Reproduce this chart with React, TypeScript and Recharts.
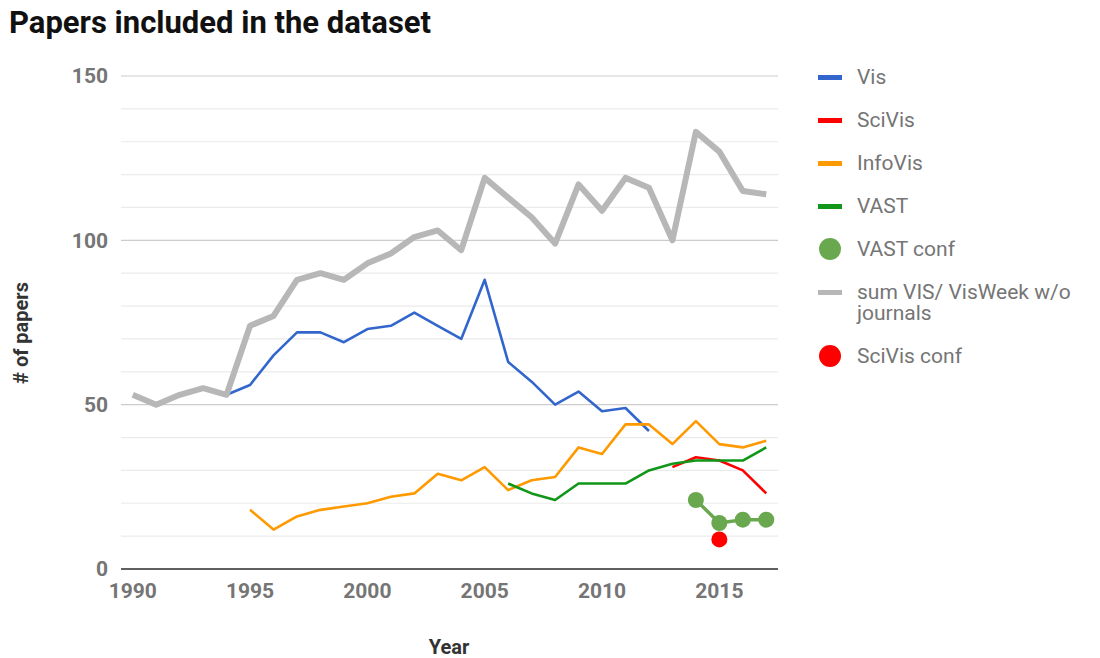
import React from 'react';
import { LineChart, Line, XAxis, YAxis, CartesianGrid, ReferenceLine } from 'recharts';

const years = [1990, 1991, 1992, 1993, 1994, 1995, 1996, 1997, 1998, 1999, 2000, 2001, 2002, 2003, 2004, 2005, 2006, 2007, 2008, 2009, 2010, 2011, 2012, 2013, 2014, 2015, 2016, 2017];

const vis = [null, null, null, null, 53, 56, 65, 72, 72, 69, 73, 74, 78, 74, 70, 88, 63, 57, 50, 54, 48, 49, 42, null, null, null, null, null];
const sciVis = [null, null, null, null, null, null, null, null, null, null, null, null, null, null, null, null, null, null, null, null, null, null, null, 31, 34, 33, 30, 23];
const infoVis = [null, null, null, null, null, 18, 12, 16, 18, 19, 20, 22, 23, 29, 27, 31, 24, 27, 28, 37, 35, 44, 44, 38, 45, 38, 37, 39];
const vast = [null, null, null, null, null, null, null, null, null, null, null, null, null, null, null, null, 26, 23, 21, 26, 26, 26, 30, 32, 33, 33, 33, 37];
const vastConf = [null, null, null, null, null, null, null, null, null, null, null, null, null, null, null, null, null, null, null, null, null, null, null, null, 21, 14, 15, 15];
const sumVis = [53, 50, 53, 55, 53, 74, 77, 88, 90, 88, 93, 96, 101, 103, 97, 119, 113, 107, 99, 117, 109, 119, 116, 100, 133, 127, 115, 114];
const sciVisConf = [null, null, null, null, null, null, null, null, null, null, null, null, null, null, null, null, null, null, null, null, null, null, null, null, null, 9, null, null];

const xTicks = [1990, 1995, 2000, 2005, 2010, 2015];
const yTicks = [0, 50, 100, 150];
const yMinorTicks = [10, 20, 30, 40, 60, 70, 80, 90, 110, 120, 130, 140];

const seriesNames = ['Vis', 'SciVis', 'InfoVis', 'VAST', 'VAST conf', 'sum VIS/ VisWeek w/o journals', 'SciVis conf'];
const seriesKeys = ['vis', 'sciVis', 'infoVis', 'vast', 'vastConf', 'sumVis', 'sciVisConf'];
const seriesColors = ['#3366cc', '#ff0000', '#ff9900', '#109618', '#6aa84f', '#b7b7b7', '#ff0000'];
const seriesKinds = ['line', 'line', 'line', 'line', 'dot', 'line', 'dot'];

const data = years.map((year, i) => ({
  year,
  vis: vis[i],
  sciVis: sciVis[i],
  infoVis: infoVis[i],
  vast: vast[i],
  vastConf: vastConf[i],
  sumVis: sumVis[i],
  sciVisConf: sciVisConf[i],
}));

const FONT = 'Roboto, "Noto Sans", sans-serif';

export default function App() {
  return (
    <div style={{ position: 'absolute', left: 0, top: 0, width: 1100, height: 658, background: '#fff', fontFamily: FONT, overflow: 'hidden' }}>
      <div style={{ position: 'absolute', left: 9, top: 3, fontSize: 31, fontWeight: 700, color: '#111', whiteSpace: 'nowrap', lineHeight: '40px' }}>
        Papers included in the dataset
      </div>
      <div style={{ position: 'absolute', left: 0, top: 0 }}>
        <LineChart width={1100} height={658} data={data} margin={{ top: 76, right: 322, bottom: 59, left: 61 }}>
          <CartesianGrid vertical={false} stroke="#cccccc" strokeWidth={1.2} />
          {yMinorTicks.map((v) => (
            <ReferenceLine key={v} y={v} stroke="#ebebeb" strokeWidth={1.2} />
          ))}
          <XAxis
            dataKey="year"
            type="number"
            domain={['dataMin - 0.5', 'dataMax + 0.5']}
            ticks={xTicks}
            height={30}
            tickLine={false}
            tickMargin={8}
            axisLine={{ stroke: '#333', strokeWidth: 1.6 }}
            tick={{ fill: '#757575', fontSize: 21, fontWeight: 700, fontFamily: FONT }}
          />
          <YAxis
            type="number"
            domain={[0, 150]}
            ticks={yTicks}
            width={60}
            axisLine={false}
            tickLine={false}
            tickMargin={7}
            tick={{ fill: '#757575', fontSize: 21, fontWeight: 700, fontFamily: FONT }}
          />
          {seriesKeys.map((k, i) =>
            seriesKinds[i] === 'line' ? (
              <Line
                key={k}
                dataKey={k}
                name={seriesNames[i]}
                stroke={seriesColors[i]}
                strokeWidth={k === 'sumVis' ? 6 : 2.6}
                dot={false}
                activeDot={false}
                isAnimationActive={false}
                strokeLinejoin="round"
              />
            ) : (
              <Line
                key={k}
                dataKey={k}
                name={seriesNames[i]}
                stroke={k === 'vastConf' ? seriesColors[i] : 'none'}
                strokeWidth={3.5}
                dot={{ r: 8, fill: seriesColors[i], stroke: 'none' }}
                activeDot={false}
                isAnimationActive={false}
              />
            )
          )}
        </LineChart>
      </div>
      <div style={{ position: 'absolute', left: 0, top: 322, width: 42, height: 0 }}>
        <div style={{ position: 'absolute', left: 21, top: 11, transform: 'translate(-50%, -50%) rotate(-90deg)', fontSize: 20, fontWeight: 700, color: '#333', whiteSpace: 'nowrap', lineHeight: '22px' }}>
          # of papers
        </div>
      </div>
      <div style={{ position: 'absolute', left: 449, top: 637, transform: 'translateX(-50%)', fontSize: 20, fontWeight: 700, color: '#333', whiteSpace: 'nowrap', lineHeight: '20px' }}>
        Year
      </div>
      <div style={{ position: 'absolute', left: 816, top: 67, width: 284 }}>
        {seriesNames.map((name, i) => (
          <div key={name} style={{ display: 'flex', alignItems: 'flex-start', marginBottom: 22 }}>
            <div style={{ width: 28, height: 21, position: 'relative', flex: 'none' }}>
              {seriesKinds[i] === 'line' ? (
                <div style={{ position: 'absolute', left: 2, top: 8, width: 24, height: 5, background: seriesColors[i] }} />
              ) : (
                <div style={{ position: 'absolute', left: 3, top: -1, width: 22, height: 22, borderRadius: 11, background: seriesColors[i] }} />
              )}
            </div>
            <div style={{ marginLeft: 13, width: 240, fontSize: 21, lineHeight: '21px', color: '#757575' }}>{name}</div>
          </div>
        ))}
      </div>
    </div>
  );
}
